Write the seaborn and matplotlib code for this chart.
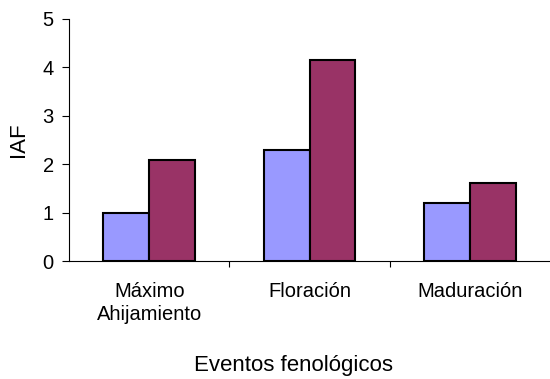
import matplotlib
matplotlib.use("Agg")
import matplotlib.pyplot as plt
import seaborn as sns
import pandas as pd

# Phenological events and leaf area index (IAF) for two treatments
eventos = ["Máximo\nAhijamiento", "Floración", "Maduración"]
serie_a = [1.00, 2.30, 1.20]
serie_b = [2.08, 4.15, 1.62]
series = ["A", "B"]
colores = ["#9999FF", "#993366"]
yticks = [0, 1, 2, 3, 4, 5]

df = pd.DataFrame({
    "evento": eventos * 2,
    "IAF": serie_a + serie_b,
    "serie": [series[0]] * 3 + [series[1]] * 3,
})

sns.set_theme(style="white")
plt.rcParams["font.family"] = ["Liberation Sans", "DejaVu Sans"]
plt.rcParams["text.color"] = "black"
plt.rcParams["xtick.color"] = "black"
plt.rcParams["ytick.color"] = "black"
plt.rcParams["axes.labelcolor"] = "black"

fig = plt.figure(figsize=(5.5, 3.79), dpi=100)
ax = fig.add_axes([0.1255, 0.3113, 0.8745, 0.6387])

sns.barplot(data=df, x="evento", y="IAF", hue="serie", order=eventos,
            hue_order=series, palette=colores, width=0.57, gap=0,
            edgecolor="black", linewidth=1.5, saturation=1,
            legend=False, ax=ax)

ax.set_xlim(-0.5, 2.5)
ax.set_ylim(0, 5)
ax.set_yticks(yticks)
ax.set_yticklabels([str(t) for t in yticks], fontsize=14.5)

ax.set_xticks(range(len(eventos)))
ax.set_xticklabels(eventos, fontsize=14.5, linespacing=1.3)
ax.set_xticks([0.5, 1.5], minor=True)
ax.tick_params(axis="x", which="major", length=0, pad=15)
ax.tick_params(axis="x", which="minor", length=4, width=0.8,
               direction="out", bottom=True)
ax.tick_params(axis="y", which="major", length=5, width=0.8,
               direction="out", left=True, pad=6)

for side in ["top", "right"]:
    ax.spines[side].set_visible(False)
for side in ["left", "bottom"]:
    ax.spines[side].set_color("black")
    ax.spines[side].set_linewidth(0.8)

ax.set_ylabel("IAF", fontsize=16)
ax.yaxis.set_label_coords(-0.084, 0.5)
ax.set_xlabel("")
fig.text(294 / 550, 1 - 365 / 379, "Eventos fenológicos", fontsize=16,
         ha="center", va="center")

fig.savefig("out.png", dpi=100)
